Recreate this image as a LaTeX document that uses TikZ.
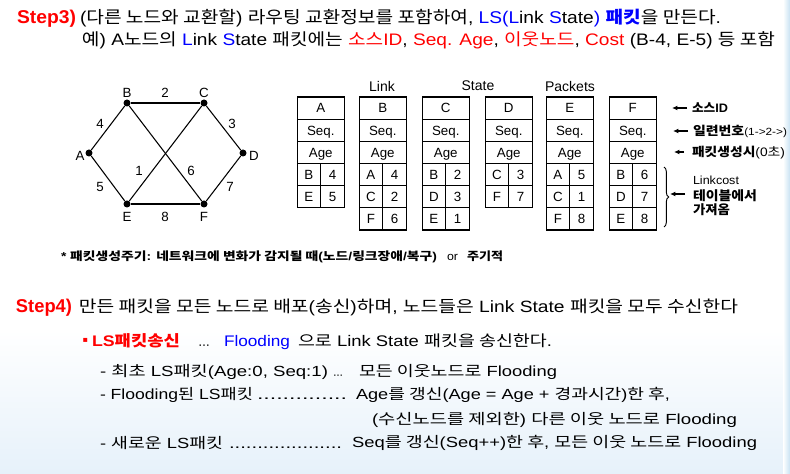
\documentclass[tikz,border=0pt]{standalone}
\usepackage{fontspec}
\usepackage{graphicx}
\usetikzlibrary{arrows.meta,decorations.pathreplacing}
\setmainfont{Liberation Sans}
\newfontfamily\krfont{Noto Sans CJK KR}
\newfontfamily\symfont{DejaVu Sans}
\newcommand\hg[1]{{\krfont #1}}
\newdimen\pxu \pxu=0.75pt
\newcommand\fitto[2]{\resizebox{#1\pxu}{\height}{#2}}
\newcommand\fs[1]{\fontsize{#1}{#1}\selectfont}
\definecolor{myred}{RGB}{255,0,0}
\definecolor{myblue}{RGB}{0,0,255}
\definecolor{bgblue}{RGB}{230,241,250}
\definecolor{edgeblue}{RGB}{200,226,242}
\begin{document}
\begin{tikzpicture}[x=0.75pt,y=-0.75pt,
  t/.style={anchor=base west, inner sep=0pt, outer sep=0pt},
  dot/.style={circle, fill=black, inner sep=0pt, minimum size=5.25pt},
  edge/.style={line width=0.8pt},
  lbl/.style={inner sep=0pt, font=\fs{10}},
  cell/.style={draw, line width=0.8pt, inner sep=0pt, minimum width=35.25pt, minimum height=16.63pt, text height=7.2pt, text depth=0pt, font=\fs{10}},
  hcell/.style={cell, minimum width=17.63pt},
  hdr/.style={inner sep=0pt, font=\fs{10.5}},
  arr/.style={line width=0.9pt, -{Latex[length=4pt,width=3.6pt]}}]
\useasboundingbox (0,0) rectangle (790,474);
\fill[white] (0,0) rectangle (790,474);
\shade[top color=white, bottom color=bgblue] (0,330) rectangle (790,474);
\shade[left color=white, right color=edgeblue] (783,0) rectangle (790,474);

% ---- Step 3 text ----
\node[t, font=\bfseries\fs{13.9}, text=myred] (s3) at (17,24) {\fitto{59}{Step3)}};
\node[t, font=\fs{12.75}] (l1) at (80,24) {\fitto{641}{(\hg{다른 노드와 교환할}) \hg{라우팅 교환정보를 포함하여}, \textcolor{myblue}{LS(L}ink \textcolor{myblue}{S}tate\textcolor{myblue}{)} \textcolor{myblue}{\bfseries\hg{패킷}}\hg{을 만든다}.}};
\node[t, font=\fs{12.5}] (l2) at (82,46) {\fitto{693}{\hg{예}) A\hg{노드의} \textcolor{myblue}{L}ink \textcolor{myblue}{S}tate \hg{패킷에는} \textcolor{myred}{\hg{소스}ID}, \textcolor{myred}{Seq. Age}, \textcolor{myred}{\hg{이웃노드}}, \textcolor{myred}{Cost} (B-4, E-5) \hg{등 포함}}};

% ---- graph ----
\node[dot] (A) at (89,153) {};
\node[dot] (B) at (127,103) {};
\node[dot] (C) at (204,103) {};
\node[dot] (D) at (243,153) {};
\node[dot] (E) at (127,204) {};
\node[dot] (F) at (204,204) {};
\draw[edge] (A) -- (B);
\draw[edge] (B) -- (C);
\draw[edge] (C) -- (D);
\draw[edge] (D) -- (F);
\draw[edge] (F) -- (E);
\draw[edge] (E) -- (A);
\draw[edge] (B) -- (F);
\draw[edge] (C) -- (E);
\node[lbl] (lA) at (80,156) {A};
\node[lbl] (lB) at (127,92.5) {B};
\node[lbl] (lC) at (204,92.5) {C};
\node[lbl] (lD) at (254,156) {D};
\node[lbl] (lE) at (127,216.5) {E};
\node[lbl] (lF) at (204,216.5) {F};
\node[lbl] (w2) at (165,92.5) {2};
\node[lbl] (w4) at (100,123.5) {4};
\node[lbl] (w3) at (232,123.5) {3};
\node[lbl] (w5) at (100,187) {5};
\node[lbl] (w7) at (230,187) {7};
\node[lbl] (w8) at (165,217) {8};
\node[lbl] (w1) at (139,171) {1};
\node[lbl] (w6) at (191,171) {6};

% ---- LS packets ----
\node[hdr] (hLink) at (382,86) {Link};
\node[hdr] (hState) at (478,86) {State};
\node[hdr] (hPackets) at (570,86) {Packets};
\foreach \c/\x/\pairs in {A/297/{B/4,E/5}, B/359/{A/4,C/2,F/6}, C/422/{B/2,D/3,E/1}, D/485/{C/3,F/7}, E/546/{A/5,C/1,F/8}, F/609/{B/6,D/7,E/8}}{
  \node[cell] (\c-id) at (\x+23.75,108.08) {\c};
  \node[cell] (\c-seq) at (\x+23.75,130.25) {Seq.};
  \node[cell] (\c-age) at (\x+23.75,152.42) {Age};
  \foreach \n/\w [count=\i] in \pairs {
    \node[hcell] (\c-\i-n) at (\x+11.875,152.42+22.17*\i) {\n};
    \node[hcell] (\c-\i-w) at (\x+35.625,152.42+22.17*\i) {\w};
  }
}

% ---- annotations ----
\coordinate (a1s) at (687,108); \coordinate (a1t) at (672,108);
\coordinate (a2s) at (688,131); \coordinate (a2t) at (673,131);
\coordinate (a3s) at (684,152); \coordinate (a3t) at (674,152);
\coordinate (a4s) at (685,194); \coordinate (a4t) at (670,194);
\draw[arr] (a1s) -- (a1t);
\draw[arr] (a2s) -- (a2t);
\draw[arr] (a3s) -- (a3t);
\draw[arr] (a4s) -- (a4t);
\coordinate (brt) at (664,167); \coordinate (brb) at (664,227);
\draw[line width=0.7pt, decorate, decoration={brace, amplitude=3.5pt}] (brt) -- (brb);
\node[t, font=\bfseries\fs{9.2}] (r1) at (692,113) {\fitto{36}{\hg{소스}ID}};
\node[t, font=\fs{9.2}] (r2) at (693,136) {\fitto{94}{{\bfseries\hg{일련번호}}{\fs{7.8}(1->2->)}}};
\node[t, font=\fs{9.2}] (r3) at (692,157) {\fitto{93}{{\bfseries\hg{패킷생성시}}(0\hg{초})}};
\node[t, font=\fs{8.8}] (r4) at (693,185) {\fitto{46}{Linkcost}};
\node[t, font=\bfseries\fs{9.6}] (r5) at (693,201) {\fitto{64}{\hg{테이블에서}}};
\node[t, font=\bfseries\fs{9.6}] (r6) at (693,214.5) {\fitto{37}{\hg{가져옴}}};

% ---- footnote ----
\node[t, font=\bfseries\fs{8.6}] (fn1) at (61,261) {\fitto{376}{* \hg{패킷생성주기}: \hg{네트워크에 변화가 감지될 때}(\hg{노드}/\hg{링크장애}/\hg{복구})}};
\node[t, font=\fs{8.6}] (fn2) at (447,261) {\fitto{11}{or}};
\node[t, font=\bfseries\fs{8.6}] (fn3) at (467,261) {\fitto{36}{\hg{주기적}}};

% ---- Step 4 text ----
\node[t, font=\bfseries\fs{13.9}, text=myred] (s4) at (16,312) {\fitto{56}{Step4)}};
\node[t, font=\fs{12.25}] (l4) at (79,312) {\fitto{659}{\hg{만든 패킷을 모든 노드로 배포}(\hg{송신})\hg{하며}, \hg{노드들은} Link State \hg{패킷을 모두 수신한다}}};

\node[t, font=\symfont\fs{6}, text=myred] (bul) at (82.5,343) {▪};
\node[t, font=\bfseries\fs{11.5}, text=myred] (lss) at (92,347) {\fitto{88}{LS\hg{패킷송신}}};
\node[t, font=\fs{11.5}] (ell) at (198,347) {\fitto{12}{…}};
\node[t, font=\fs{11.5}, text=myblue] (fl) at (224,347) {\fitto{66}{Flooding}};
\node[t, font=\fs{11.5}] (lsr) at (298,347) {\fitto{254}{\hg{으로} Link State \hg{패킷을 송신한다}.}};

\node[t, font=\fs{11}] (b1a) at (100,377) {\fitto{228}{- \hg{최초} LS\hg{패킷}(Age:0, Seq:1)}};
\node[t, font=\fs{11}] (b1b) at (333,377) {\fitto{10}{…}};
\node[t, font=\fs{11}] (b1c) at (359,377) {\fitto{198}{\hg{모든 이웃노드로} Flooding}};

\node[t, font=\fs{11}] (b2a) at (100,400) {\fitto{153}{- Flooding\hg{된} LS\hg{패킷}}};
\node[t, font=\fs{11}] (b2b) at (257,400) {\fitto{90}{..............}};
\node[t, font=\fs{11}] (b2c) at (356,400) {\fitto{314}{Age\hg{를 갱신}(Age = Age + \hg{경과시간})\hg{한 후},}};

\node[t, font=\fs{11}] (b3) at (372,425) {\fitto{365}{(\hg{수신노드를 제외한}) \hg{다른 이웃 노드로} Flooding}};

\node[t, font=\fs{11}] (b4a) at (100,448) {\fitto{123}{- \hg{새로운} LS\hg{패킷}}};
\node[t, font=\fs{11}] (b4b) at (229,448) {\fitto{113}{....................}};
\node[t, font=\fs{11}] (b4c) at (352,448) {\fitto{405}{Seq\hg{를 갱신}(Seq++)\hg{한 후}, \hg{모든 이웃 노드로} Flooding}};
\end{tikzpicture}
\end{document}
